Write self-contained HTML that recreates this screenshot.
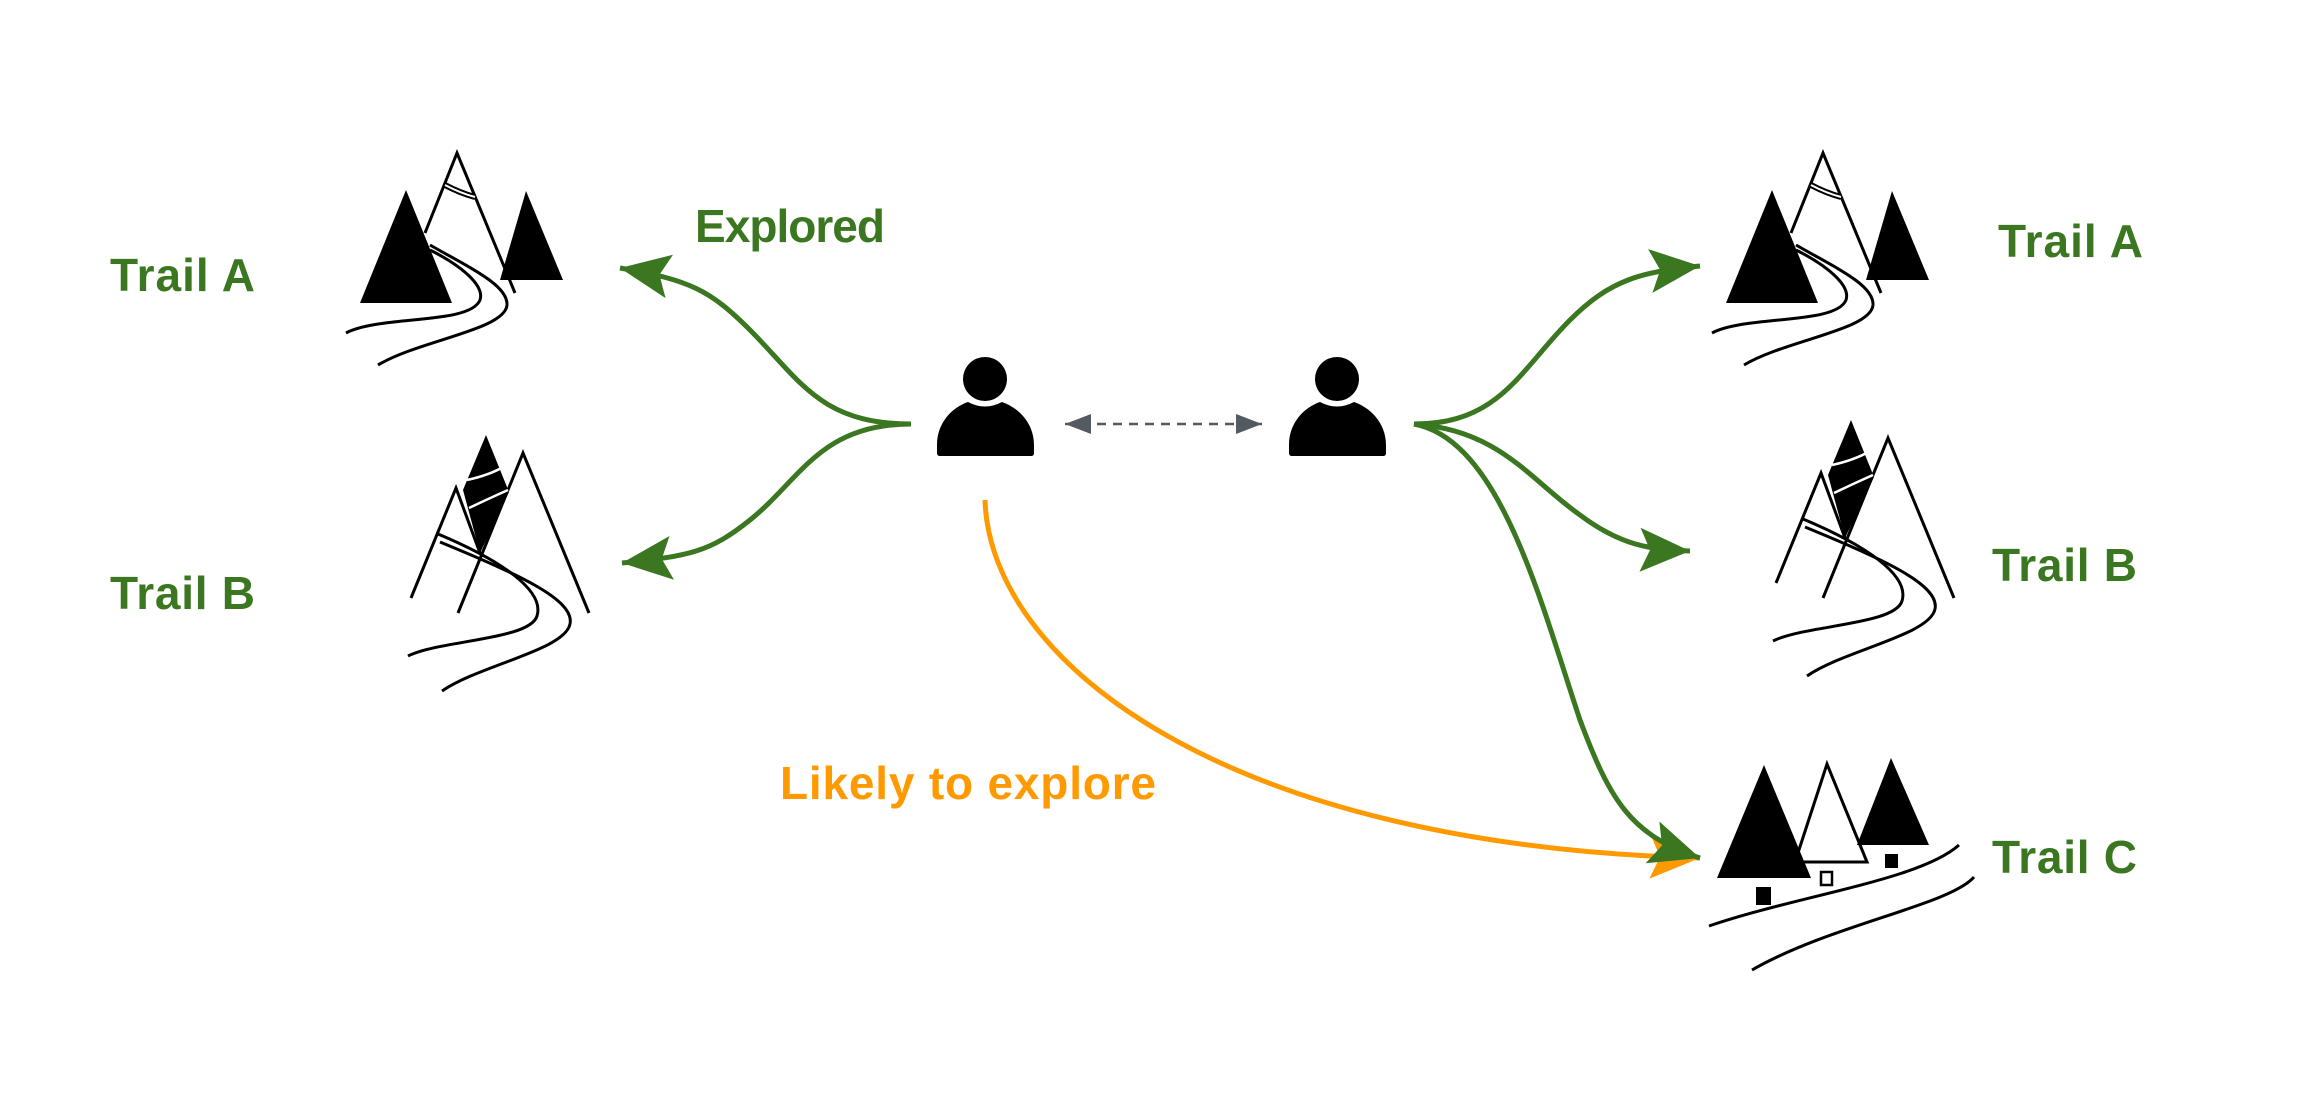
<!DOCTYPE html>
<html><head><meta charset="utf-8"><style>html,body{margin:0;padding:0;background:#fff}svg{display:block}</style></head>
<body>
<svg width="2322" height="1110" viewBox="0 0 2322 1110" xmlns="http://www.w3.org/2000/svg">
<defs>
<marker id="ag" markerUnits="userSpaceOnUse" markerWidth="60" markerHeight="50" refX="50" refY="22" orient="auto"><path d="M0,0 L50,22 L0,44 L10,22 Z" fill="#3a7720"/></marker>
<marker id="ao" markerUnits="userSpaceOnUse" markerWidth="60" markerHeight="50" refX="50" refY="22" orient="auto"><path d="M0,0 L50,22 L0,44 L10,22 Z" fill="#ff9900"/></marker>
<marker id="ad" markerUnits="userSpaceOnUse" markerWidth="30" markerHeight="24" refX="26" refY="10" orient="auto"><path d="M0,0 L26,10 L0,20 Z" fill="#545a62"/></marker>
<marker id="ads" markerUnits="userSpaceOnUse" markerWidth="30" markerHeight="24" refX="0" refY="10" orient="auto"><path d="M26,0 L0,10 L26,20 Z" fill="#545a62"/></marker>
<g id="mtA">
<polygon points="360,303 406,190 452,303" fill="#000"/>
<polygon points="500,280 526,191 563,280" fill="#000"/>
<polyline points="425,233 457,153 515,293" fill="none" stroke="#000" stroke-width="3"/>
<path d="M445,185 Q460,193 475,197" stroke="#000" stroke-width="6" fill="none"/>
<path d="M445,185 Q460,193 475,197" stroke="#fff" stroke-width="2" fill="none"/>
<path d="M346,333 C380,315 470,325 480,300 C485,285 460,265 430,250" fill="none" stroke="#000" stroke-width="3"/>
<path d="M378,365 C420,340 505,330 507,305 C508,285 470,268 430,245" fill="none" stroke="#000" stroke-width="3"/>
</g>
<g id="mtB">
<polygon points="486,435 509,492 480,553 463,490" fill="#000"/>
<polyline points="411,598 456,488 480,553" fill="none" stroke="#000" stroke-width="3"/>
<polyline points="458,613 523,453 589,613" fill="none" stroke="#000" stroke-width="3"/>
<path d="M467,480 Q490,475 505,466" stroke="#fff" stroke-width="2.5" fill="none"/>
<path d="M469,508 Q490,498 508,490" stroke="#fff" stroke-width="2.5" fill="none"/>
<path d="M438,534 C500,560 545,590 537,616 C530,640 440,640 408,656" fill="none" stroke="#000" stroke-width="3"/>
<path d="M440,542 C520,575 575,600 570,624 C565,650 480,665 442,691" fill="none" stroke="#000" stroke-width="3"/>
</g>
<g id="person">
<circle cx="985" cy="379" r="22" fill="#000"/>
<path d="M937,453 L937,445 C937,422 953,407 968,402 Q985,411 1002,402 C1017,407 1034,422 1034,445 L1034,453 Q1034,456 1031,456 L940,456 Q937,456 937,453 Z" fill="#000"/>
</g>
</defs>

<use href="#mtA"/>
<use href="#mtA" transform="translate(1366,0)"/>
<use href="#mtB"/>
<use href="#mtB" transform="translate(1365,-15)"/>

<!-- Trail C -->
<polygon points="1717,878 1764,765 1811,878" fill="#000"/>
<polygon points="1795,862 1827,764 1867,862" fill="none" stroke="#000" stroke-width="3"/>
<polygon points="1857,845 1891,758 1929,845" fill="#000"/>
<rect x="1756" y="887" width="15" height="18" fill="#000"/>
<rect x="1821" y="872" width="11" height="13" fill="none" stroke="#000" stroke-width="2.5"/>
<rect x="1885" y="854" width="13" height="14" fill="#000"/>
<path d="M1709,926 C1800,895 1920,880 1959,845" fill="none" stroke="#000" stroke-width="3"/>
<path d="M1752,970 C1830,925 1950,905 1974,877" fill="none" stroke="#000" stroke-width="3"/>

<use href="#person"/>
<use href="#person" transform="translate(352,0)"/>

<!-- edges -->
<path d="M911,424 C820,424 800,380 750,330 C710,290 690,280 620,268" fill="none" stroke="#3a7720" stroke-width="5" marker-end="url(#ag)"/>
<path d="M911,424 C820,424 800,480 750,520 C710,552 690,556 622,563" fill="none" stroke="#3a7720" stroke-width="5" marker-end="url(#ag)"/>
<line x1="1065" y1="424" x2="1262" y2="424" stroke="#545a62" stroke-width="2.5" stroke-dasharray="9,7" marker-end="url(#ad)" marker-start="url(#ads)"/>
<path d="M1414,424 C1500,424 1520,370 1570,320 C1610,280 1640,272 1700,266" fill="none" stroke="#3a7720" stroke-width="5" marker-end="url(#ag)"/>
<path d="M1414,424 C1500,430 1530,480 1580,515 C1620,545 1650,550 1690,551" fill="none" stroke="#3a7720" stroke-width="5" marker-end="url(#ag)"/>
<path d="M985,500 C990,660 1220,845 1700,858" fill="none" stroke="#ff9900" stroke-width="5" marker-end="url(#ao)"/>
<path d="M1414,424 C1500,440 1540,600 1580,720 C1610,800 1630,835 1700,858" fill="none" stroke="#3a7720" stroke-width="5" marker-end="url(#ag)"/>

<g font-family="Liberation Sans, sans-serif" font-weight="bold" font-size="46" fill="#3a7720">
<text x="110" y="291" textLength="145">Trail A</text>
<text x="110" y="609" textLength="145">Trail B</text>
<text x="695" y="242" textLength="190">Explored</text>
<text x="1998" y="257" textLength="145">Trail A</text>
<text x="1992" y="581" textLength="145">Trail B</text>
<text x="1992" y="873" textLength="145">Trail C</text>
<text x="780" y="799" fill="#ff9900" textLength="376">Likely to explore</text>
</g>
</svg>
</body></html>
